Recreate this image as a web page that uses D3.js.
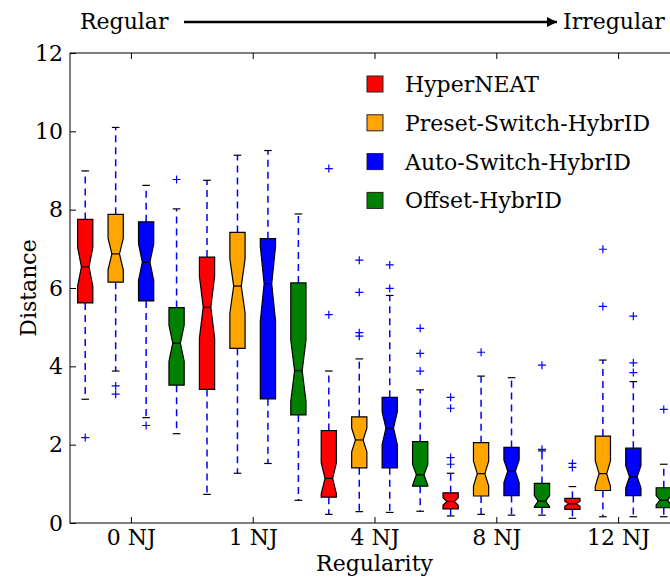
<!DOCTYPE html>
<html>
<head>
<meta charset="utf-8">
<script src="https://cdnjs.cloudflare.com/ajax/libs/d3/7.8.5/d3.min.js"></script>
<style>
body { margin: 0; background: #fff; }
svg text { font-family: "DejaVu Serif", serif; font-size: 22px; fill: #000; }
</style>
</head>
<body>
<svg id="chart" width="670" height="577"></svg>
<script>
var categories = ["0 NJ", "1 NJ", "4 NJ", "8 NJ", "12 NJ"];
var seriesNames = ["HyperNEAT", "Preset-Switch-HybrID", "Auto-Switch-HybrID", "Offset-HybrID"];
var yTicks = [0, 2, 4, 6, 8, 10, 12];

// [lower whisker, q1, median, q3, upper whisker] per category
var hyperneat = [
  [3.16, 5.62, 6.54, 7.75, 8.99],
  [0.73, 3.41, 5.51, 6.79, 8.75],
  [0.22, 0.66, 1.14, 2.36, 3.88],
  [0.18, 0.36, 0.55, 0.77, 1.27],
  [0.12, 0.35, 0.49, 0.63, 0.93]
];
var presetSwitch = [
  [3.88, 6.15, 6.87, 7.88, 10.1],
  [1.27, 4.46, 6.05, 7.42, 9.39],
  [0.29, 1.41, 2.12, 2.71, 4.19],
  [0.22, 0.69, 1.26, 2.05, 3.75],
  [0.16, 0.83, 1.26, 2.22, 4.16]
];
var autoSwitch = [
  [2.69, 5.67, 6.66, 7.69, 8.62],
  [1.52, 3.17, 6.11, 7.26, 9.51],
  [0.27, 1.41, 2.42, 3.21, 5.81],
  [0.20, 0.70, 1.32, 1.93, 3.71],
  [0.16, 0.70, 1.18, 1.91, 3.61]
];
var offsetHybrid = [
  [2.28, 3.52, 4.59, 5.50, 8.02],
  [0.58, 2.76, 3.89, 6.13, 7.89],
  [0.30, 0.94, 1.23, 2.08, 3.40],
  [0.20, 0.40, 0.56, 1.01, 1.84],
  [0.16, 0.39, 0.58, 0.90, 1.50]
];
// outliers (+) per category
var hyperneatOut = [[2.18], [], [9.05, 5.32], [3.21, 2.93, 1.67, 1.50], [1.52, 1.42]];
var presetSwitchOut = [[3.50, 3.29], [], [6.71, 5.89, 4.86, 4.77], [4.36], [6.99, 5.53]];
var autoSwitchOut = [[2.49], [], [6.59, 5.99], [], [5.28, 4.09, 3.84]];
var offsetHybridOut = [[8.77], [], [4.97, 4.33, 3.88], [4.03, 1.88], [2.90]];
var colors = ["#ff0000", "#ffa500", "#0000ff", "#008000"];
var sampleSize = 45; // runs behind each box, sets the notch

var WIDTH = 670, HEIGHT = 577,
    MARGINS = { top: 53, right: -9, bottom: 54, left: 70 };

var svg = d3.select('#chart');

var allStats = [hyperneat, presetSwitch, autoSwitch, offsetHybrid],
    allOut = [hyperneatOut, presetSwitchOut, autoSwitchOut, offsetHybridOut],
    nBoxes = categories.length * seriesNames.length;

var boxes = [], fliers = [];
allStats.forEach(function(s, k) {
  s.forEach(function(d, g) {
    var pos = g * seriesNames.length + k + 1;
    boxes.push({ pos: pos, k: k, lo: d[0], q1: d[1], med: d[2], q3: d[3], hi: d[4] });
    allOut[k][g].forEach(function(v) { fliers.push({ pos: pos, v: v }); });
  });
});

var xScale = d3.scaleLinear().domain([0.5, nBoxes + 0.5]).range([MARGINS.left, WIDTH - MARGINS.right]),
    yScale = d3.scaleLinear().domain([0, 12]).range([HEIGHT - MARGINS.bottom, MARGINS.top]);

var boxW = xScale(1.5) - xScale(1);   // 0.5 of a slot
var groupCenters = categories.map(function(c, i) { return i * seriesNames.length + 2.5; });

// frame
svg.append('rect')
   .attr('x', MARGINS.left).attr('y', MARGINS.top)
   .attr('width', xScale(nBoxes + 0.5) - MARGINS.left)
   .attr('height', yScale(0) - MARGINS.top)
   .attr('fill', 'none').attr('stroke', '#000').attr('stroke-width', 1);

var yAxis = d3.axisLeft(yScale).tickValues(yTicks).tickSize(-6).tickPadding(7).tickFormat(d3.format('d'));
svg.append('g').attr('class', 'axis')
   .attr('transform', 'translate(' + MARGINS.left + ',0)')
   .call(yAxis);

var xAxis = d3.axisBottom(xScale).tickValues(groupCenters).tickSize(-6).tickPadding(6)
   .tickFormat(function(d, i) { return categories[i]; });
svg.append('g').attr('class', 'axis')
   .attr('transform', 'translate(0,' + yScale(0) + ')')
   .call(xAxis);

svg.append('g').attr('class', 'axis')
   .attr('transform', 'translate(0,' + MARGINS.top + ')')
   .call(d3.axisTop(xScale).tickValues(groupCenters).tickSize(-6).tickFormat(''));

svg.selectAll('.axis .domain').remove();
svg.selectAll('.axis text').attr('font-family', null).attr('font-size', null).style('font-size', '22px');
svg.selectAll('.axis line').attr('stroke', '#000');

// whiskers
var wh = svg.append('g');
boxes.forEach(function(b) {
  var cx = xScale(b.pos);
  [[b.q1, b.lo], [b.q3, b.hi]].forEach(function(p) {
    wh.append('line')
      .attr('x1', cx).attr('x2', cx)
      .attr('y1', yScale(p[0])).attr('y2', yScale(p[1]))
      .attr('stroke', '#0000ff').attr('stroke-width', 1.5)
      .attr('stroke-dasharray', '7,5');
  });
  [b.lo, b.hi].forEach(function(v) {
    wh.append('line')
      .attr('x1', cx - boxW / 4).attr('x2', cx + boxW / 4)
      .attr('y1', yScale(v)).attr('y2', yScale(v))
      .attr('stroke', '#000').attr('stroke-width', 1.2);
  });
});

// notched boxes, matplotlib style
function notchPath(b) {
  var cx = xScale(b.pos), l = cx - boxW / 2, r = cx + boxW / 2,
      cl = cx - boxW / 4, cr = cx + boxW / 4,
      half = 1.57 * (b.q3 - b.q1) / Math.sqrt(sampleSize),
      nlo = b.med - half, nhi = b.med + half;
  var pts = [[l, b.q1], [r, b.q1], [r, nlo], [cr, b.med], [r, nhi], [r, b.q3],
             [l, b.q3], [l, nhi], [cl, b.med], [l, nlo], [l, b.q1]];
  return d3.line().x(function(p) { return p[0]; }).y(function(p) { return yScale(p[1]); })(pts) + 'Z';
}

svg.selectAll('.box')
   .data(boxes)
   .enter().append('path')
   .attr('class', 'box')
   .attr('d', notchPath)
   .attr('fill', function(d) { return colors[d.k]; })
   .attr('stroke', '#000').attr('stroke-width', 1.2)
   .attr('stroke-linejoin', 'miter');

svg.selectAll('.median')
   .data(boxes)
   .enter().append('line')
   .attr('class', 'median')
   .attr('x1', function(d) { return xScale(d.pos) - boxW / 4; })
   .attr('x2', function(d) { return xScale(d.pos) + boxW / 4; })
   .attr('y1', function(d) { return yScale(d.med); })
   .attr('y2', function(d) { return yScale(d.med); })
   .attr('stroke', '#000').attr('stroke-width', 1.2);

// fliers
svg.selectAll('.flier')
   .data(fliers)
   .enter().append('path')
   .attr('class', 'flier')
   .attr('d', function(d) {
     var x = xScale(d.pos), y = yScale(d.v);
     return 'M' + (x - 4) + ',' + y + 'H' + (x + 4) + 'M' + x + ',' + (y - 4) + 'V' + (y + 4);
   })
   .attr('stroke', '#0000ff').attr('stroke-width', 1.2).attr('fill', 'none');

// legend
var legend = svg.selectAll('.legend')
   .data(seriesNames)
   .enter().append('g')
   .attr('class', 'legend')
   .attr('transform', function(d, i) { return 'translate(367,' + (84 + i * 38.8) + ')'; });
legend.append('rect')
   .attr('x', 0).attr('y', -8).attr('width', 16).attr('height', 16)
   .attr('fill', function(d, i) { return colors[i]; })
   .attr('stroke', '#222').attr('stroke-width', 1);
legend.append('text')
   .attr('x', 38).attr('dy', '0.36em')
   .text(function(d) { return d; });

// axis titles
svg.append('text')
   .attr('x', (MARGINS.left + WIDTH - MARGINS.right) / 2)
   .attr('y', 571).attr('text-anchor', 'middle')
   .text('Regularity');
svg.append('text')
   .attr('transform', 'translate(36,' + yScale(6) + ') rotate(-90)')
   .attr('text-anchor', 'middle')
   .text('Distance');

// Regular -> Irregular banner
svg.append('defs').append('marker')
   .attr('id', 'head').attr('viewBox', '0 0 10 10')
   .attr('refX', 10).attr('refY', 5)
   .attr('markerWidth', 10).attr('markerHeight', 10)
   .attr('markerUnits', 'userSpaceOnUse')
   .attr('orient', 'auto')
   .append('path').attr('d', 'M0,0L10,5L0,10Z').attr('fill', '#000');
svg.append('text').attr('x', 80).attr('y', 29).text('Regular');
svg.append('line')
   .attr('x1', 184).attr('x2', 557).attr('y1', 22).attr('y2', 22)
   .attr('stroke', '#000').attr('stroke-width', 2.5)
   .attr('marker-end', 'url(#head)');
svg.append('text').attr('x', 563).attr('y', 29).text('Irregular');
</script>
</body>
</html>
